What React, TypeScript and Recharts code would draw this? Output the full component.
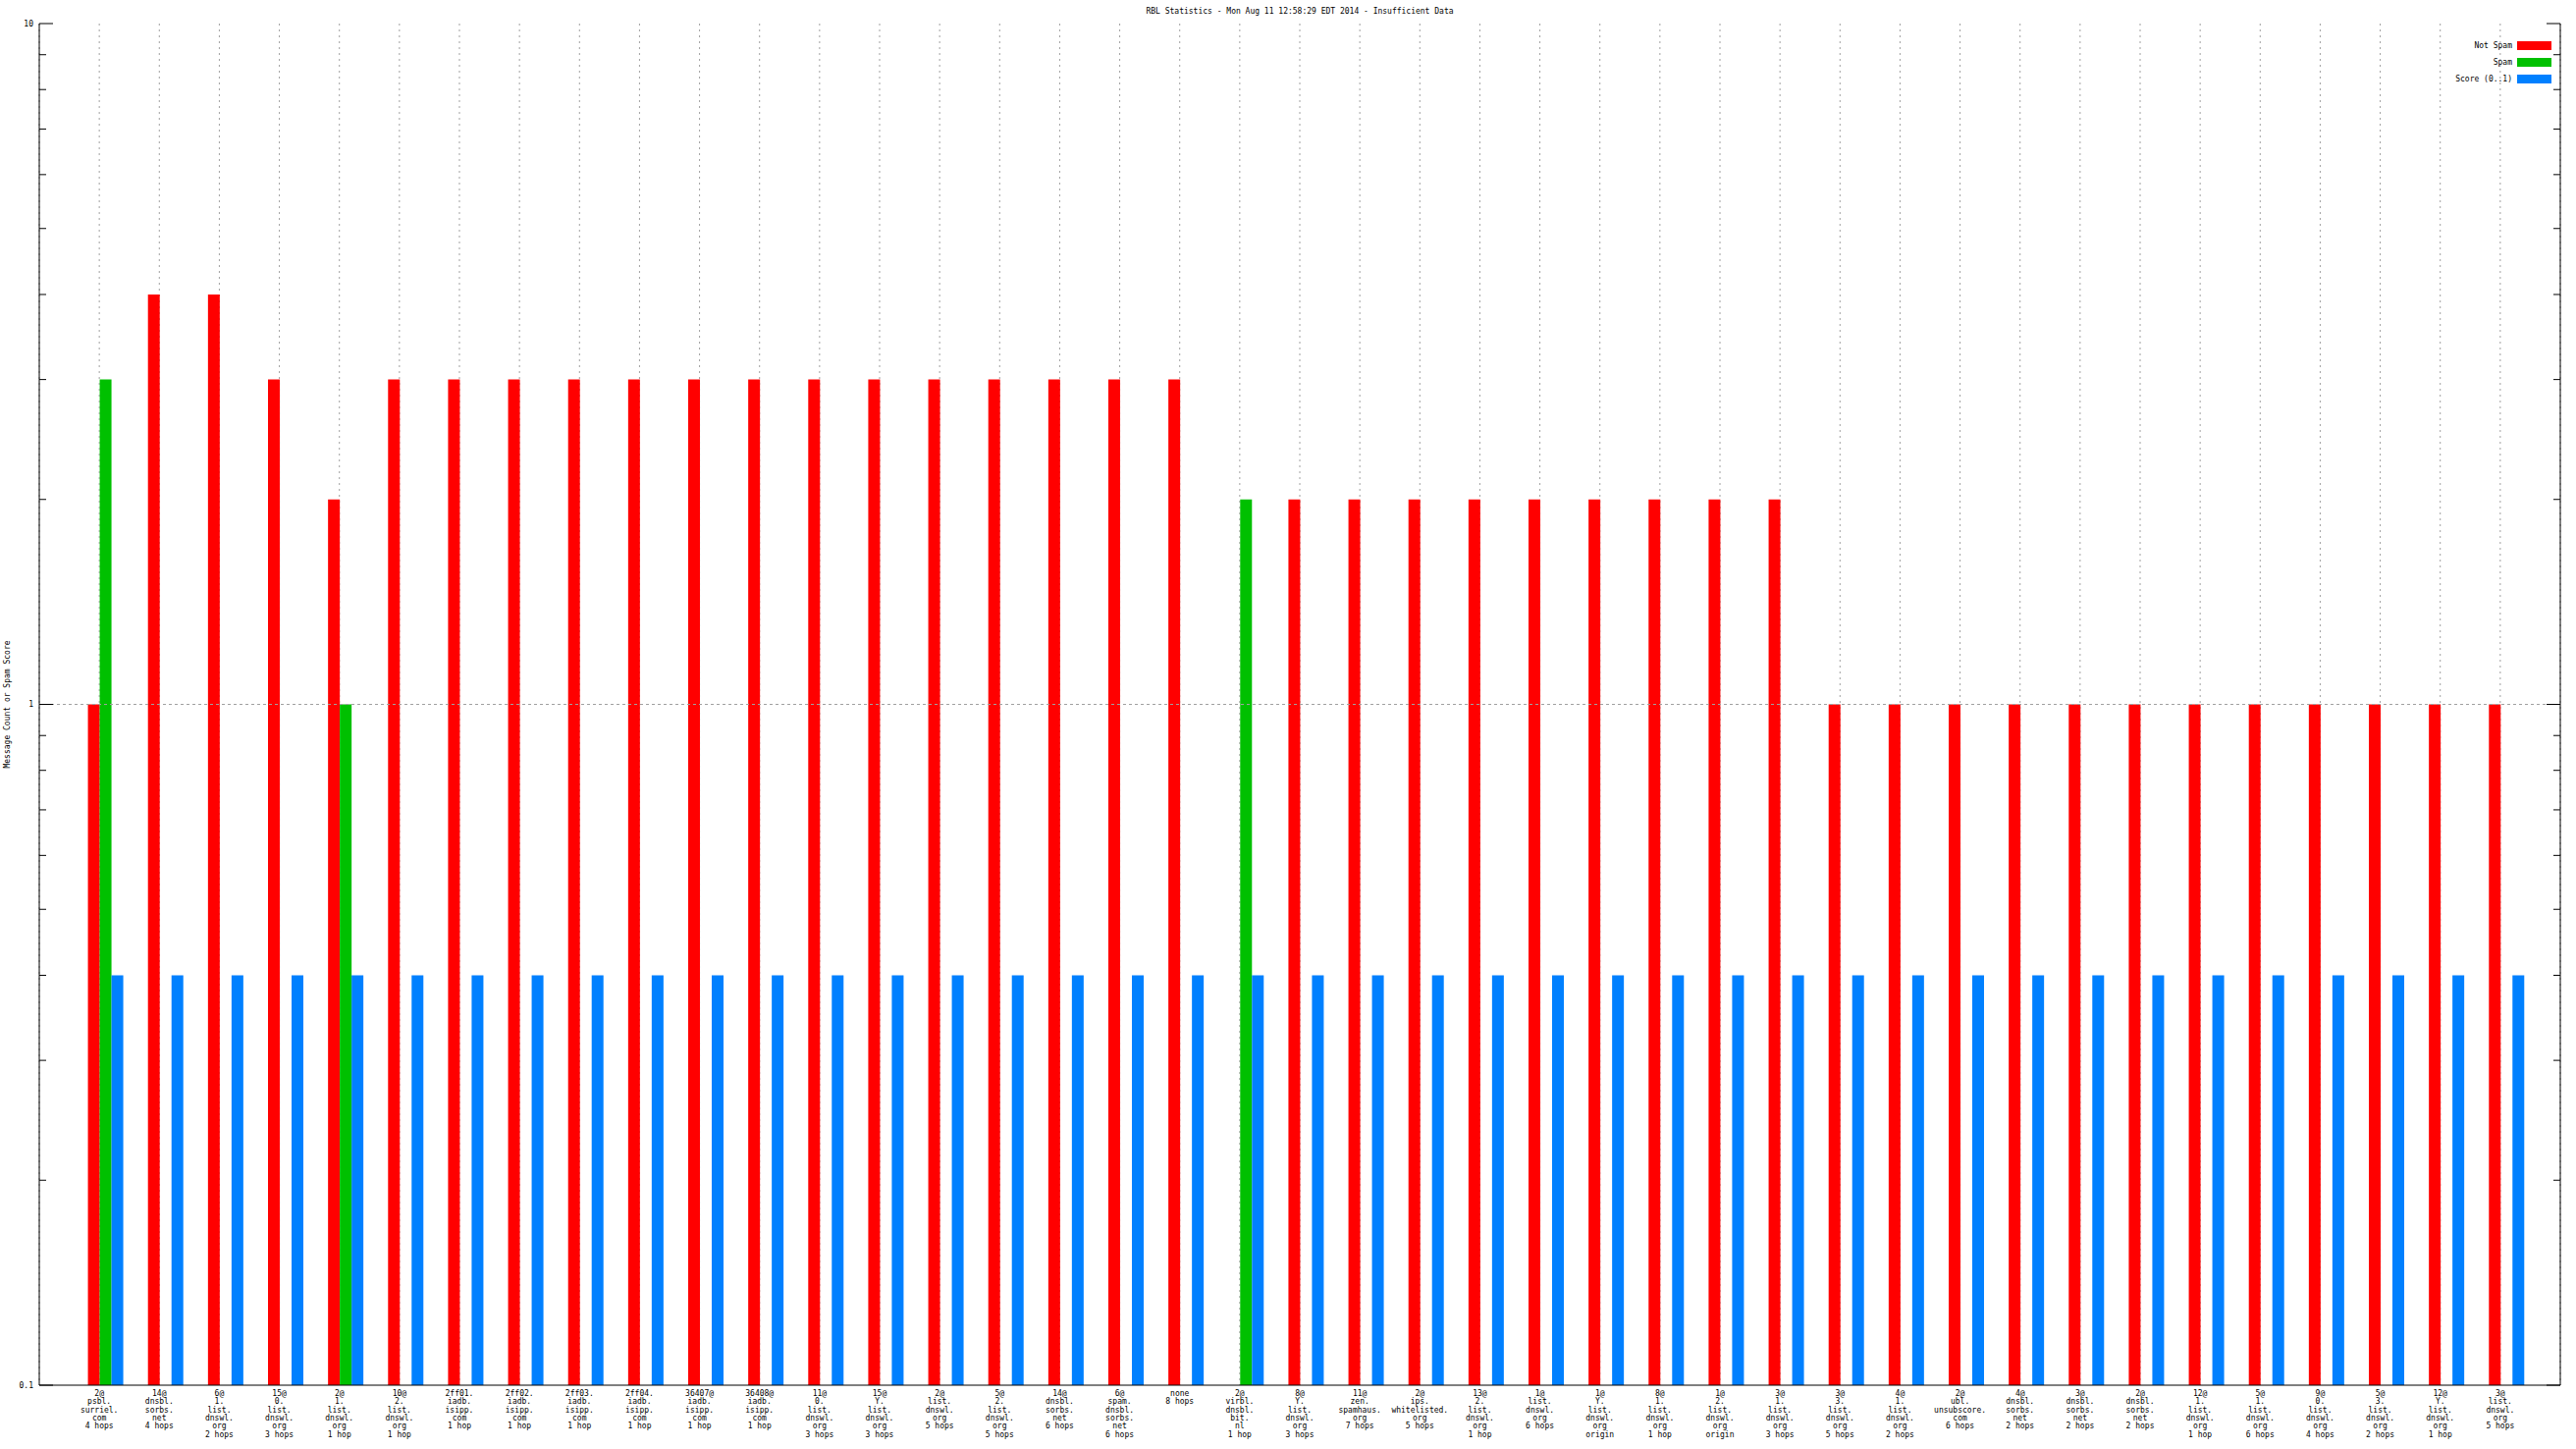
import React from "react";
import { BarChart, Bar, XAxis, YAxis, CartesianGrid, ReferenceLine } from "recharts";

const TITLE = "RBL Statistics - Mon Aug 11 12:58:29 EDT 2014 - Insufficient Data";
const Y_LABEL = "Message Count or Spam Score";

const categories: string[] = [
  "2@\npsbl.\nsurriel.\ncom\n4 hops",
  "14@\ndnsbl.\nsorbs.\nnet\n4 hops",
  "6@\n1.\nlist.\ndnswl.\norg\n2 hops",
  "15@\n0.\nlist.\ndnswl.\norg\n3 hops",
  "2@\n1.\nlist.\ndnswl.\norg\n1 hop",
  "10@\n2.\nlist.\ndnswl.\norg\n1 hop",
  "2ff01.\niadb.\nisipp.\ncom\n1 hop",
  "2ff02.\niadb.\nisipp.\ncom\n1 hop",
  "2ff03.\niadb.\nisipp.\ncom\n1 hop",
  "2ff04.\niadb.\nisipp.\ncom\n1 hop",
  "36407@\niadb.\nisipp.\ncom\n1 hop",
  "36408@\niadb.\nisipp.\ncom\n1 hop",
  "11@\n0.\nlist.\ndnswl.\norg\n3 hops",
  "15@\nY.\nlist.\ndnswl.\norg\n3 hops",
  "2@\nlist.\ndnswl.\norg\n5 hops",
  "5@\n2.\nlist.\ndnswl.\norg\n5 hops",
  "14@\ndnsbl.\nsorbs.\nnet\n6 hops",
  "6@\nspam.\ndnsbl.\nsorbs.\nnet\n6 hops",
  "none\n8 hops",
  "2@\nvirbl.\ndnsbl.\nbit.\nnl\n1 hop",
  "8@\nY.\nlist.\ndnswl.\norg\n3 hops",
  "11@\nzen.\nspamhaus.\norg\n7 hops",
  "2@\nips.\nwhitelisted.\norg\n5 hops",
  "13@\n2.\nlist.\ndnswl.\norg\n1 hop",
  "1@\nlist.\ndnswl.\norg\n6 hops",
  "1@\nY.\nlist.\ndnswl.\norg\norigin",
  "8@\n1.\nlist.\ndnswl.\norg\n1 hop",
  "1@\n2.\nlist.\ndnswl.\norg\norigin",
  "3@\n1.\nlist.\ndnswl.\norg\n3 hops",
  "3@\n3.\nlist.\ndnswl.\norg\n5 hops",
  "4@\n1.\nlist.\ndnswl.\norg\n2 hops",
  "2@\nubl.\nunsubscore.\ncom\n6 hops",
  "4@\ndnsbl.\nsorbs.\nnet\n2 hops",
  "3@\ndnsbl.\nsorbs.\nnet\n2 hops",
  "2@\ndnsbl.\nsorbs.\nnet\n2 hops",
  "12@\n1.\nlist.\ndnswl.\norg\n1 hop",
  "5@\n1.\nlist.\ndnswl.\norg\n6 hops",
  "9@\n0.\nlist.\ndnswl.\norg\n4 hops",
  "5@\n3.\nlist.\ndnswl.\norg\n2 hops",
  "12@\nY.\nlist.\ndnswl.\norg\n1 hop",
  "3@\nlist.\ndnswl.\norg\n5 hops",
];

const notSpam: (number | null)[] = [
  1, 4, 4, 3, 2, 3, 3, 3, 3, 3, 3, 3, 3, 3, 3, 3, 3, 3, 3,
  null,
  2, 2, 2, 2, 2, 2, 2, 2, 2,
  1, 1, 1, 1, 1, 1, 1, 1, 1, 1, 1, 1,
];

const spam: (number | null)[] = [
  3, null, null, null, 1, null, null, null, null, null, null, null, null, null, null, null, null, null, null,
  2,
  null, null, null, null, null, null, null, null, null,
  null, null, null, null, null, null, null, null, null, null, null, null,
];

const score: number[] = [
  0.4, 0.4, 0.4, 0.4, 0.4, 0.4, 0.4, 0.4, 0.4, 0.4, 0.4, 0.4, 0.4, 0.4,
  0.4, 0.4, 0.4, 0.4, 0.4, 0.4, 0.4, 0.4, 0.4, 0.4, 0.4, 0.4, 0.4, 0.4,
  0.4, 0.4, 0.4, 0.4, 0.4, 0.4, 0.4, 0.4, 0.4, 0.4, 0.4, 0.4, 0.4,
];

const majorTicks = [0.1, 1, 10];
const yTicks = [
  0.1, 0.2, 0.3, 0.4, 0.5, 0.6, 0.7, 0.8, 0.9,
  1, 2, 3, 4, 5, 6, 7, 8, 9, 10,
];

const seriesNames = ["Not Spam", "Spam", "Score (0..1)"];
const seriesColors = ["#ff0000", "#00c000", "#0080ff"];

const data = categories.map((label, i) => ({
  label,
  notSpam: notSpam[i],
  spam: spam[i],
  score: score[i],
}));

const FONT = "'DejaVu Sans Mono', 'Liberation Mono', monospace";
const W = 2624;
const H = 1476;
const PLOT_LEFT = 40;
const PLOT_RIGHT = 2608;
const PLOT_TOP = 24;
const PLOT_BOTTOM = 1411;
const PAD = 30.57;

const BottomTick = (props: any) => {
  const { x, y, payload } = props;
  const lines = String(payload.value).split("\n");
  return (
    <text x={x} y={y} textAnchor="middle" fontFamily={FONT} fontSize={8} fill="#000">
      {lines.map((l, i) => (
        <tspan key={i} x={x} dy={i === 0 ? 11 : 8.3}>
          {l}
        </tspan>
      ))}
    </text>
  );
};

const EmptyTick = () => <g />;

const LeftTick = (props: any) => {
  const { x, y, payload } = props;
  const v = payload.value;
  const major = majorTicks.includes(v);
  return (
    <g>
      <line x1={x} x2={x + (major ? 14 : 7)} y1={y} y2={y} stroke="#000" strokeWidth={1} />
      {major && (
        <text x={x - 6} y={y} dy="0.35em" textAnchor="end" fontFamily={FONT} fontSize={8} fill="#000">
          {String(v)}
        </text>
      )}
    </g>
  );
};

const RightTick = (props: any) => {
  const { x, y, payload } = props;
  const major = majorTicks.includes(payload.value);
  return <line x1={x} x2={x - (major ? 14 : 7)} y1={y} y2={y} stroke="#000" strokeWidth={1} />;
};

export default function App() {
  return (
    <div style={{ position: "absolute", left: 0, top: 0, width: W, height: H, background: "#fff" }}>
      <BarChart
        width={W}
        height={H}
        data={data}
        margin={{ top: PLOT_TOP, right: 0, bottom: 0, left: 0 }}
        barGap={0}
        barSize={12}
      >
        <CartesianGrid vertical={true} horizontal={false} stroke="#a0a0a0" strokeDasharray="2 4" />
        <XAxis
          dataKey="label"
          interval={0}
          height={H - PLOT_BOTTOM}
          padding={{ left: PAD, right: PAD }}
          tick={<BottomTick />}
          tickLine={false}
          tickSize={0}
          tickMargin={0}
          axisLine={{ stroke: "#000", strokeWidth: 1 }}
        />
        <XAxis
          xAxisId="top"
          orientation="top"
          dataKey="label"
          interval={0}
          height={0}
          mirror
          padding={{ left: PAD, right: PAD }}
          tick={<EmptyTick />}
          tickLine={{ stroke: "#000", strokeWidth: 1 }}
          tickSize={14}
          axisLine={{ stroke: "#000", strokeWidth: 1 }}
        />
        <YAxis
          type="number"
          scale="log"
          domain={[0.1, 10]}
          ticks={yTicks}
          interval={0}
          width={PLOT_LEFT}
          allowDataOverflow
          tick={<LeftTick />}
          tickLine={false}
          tickSize={0}
          tickMargin={0}
          axisLine={{ stroke: "#000", strokeWidth: 1 }}
        />
        <YAxis
          yAxisId="right"
          orientation="right"
          type="number"
          scale="log"
          domain={[0.1, 10]}
          ticks={yTicks}
          interval={0}
          width={W - PLOT_RIGHT}
          allowDataOverflow
          tick={<RightTick />}
          tickLine={false}
          tickSize={0}
          tickMargin={0}
          axisLine={{ stroke: "#000", strokeWidth: 1 }}
        />
        <ReferenceLine y={1} stroke="#a0a0a0" strokeDasharray="3 3" />
        <Bar dataKey="spacer" legendType="none" fill="none" isAnimationActive={false} />
        <Bar dataKey="notSpam" name={seriesNames[0]} fill={seriesColors[0]} isAnimationActive={false} />
        <Bar dataKey="spam" name={seriesNames[1]} fill={seriesColors[1]} isAnimationActive={false} />
        <Bar dataKey="score" name={seriesNames[2]} fill={seriesColors[2]} isAnimationActive={false} />
      </BarChart>
      <svg
        width={W}
        height={H}
        style={{ position: "absolute", left: 0, top: 0, pointerEvents: "none" }}
      >
        <text x={(PLOT_LEFT + PLOT_RIGHT) / 2} y={14} textAnchor="middle" fontFamily={FONT} fontSize={8} fill="#000">
          {TITLE}
        </text>
        <text
          x={10}
          y={(PLOT_TOP + PLOT_BOTTOM) / 2}
          textAnchor="middle"
          fontFamily={FONT}
          fontSize={8}
          fill="#000"
          transform={`rotate(-90 10 ${(PLOT_TOP + PLOT_BOTTOM) / 2})`}
        >
          {Y_LABEL}
        </text>
        {seriesNames.map((n, i) => (
          <g key={n}>
            <text x={2559} y={46 + i * 17} dy="0.35em" textAnchor="end" fontFamily={FONT} fontSize={8} fill="#000">
              {n}
            </text>
            <rect x={2564} y={42 + i * 17} width={35} height={9} fill={seriesColors[i]} />
          </g>
        ))}
      </svg>
    </div>
  );
}
